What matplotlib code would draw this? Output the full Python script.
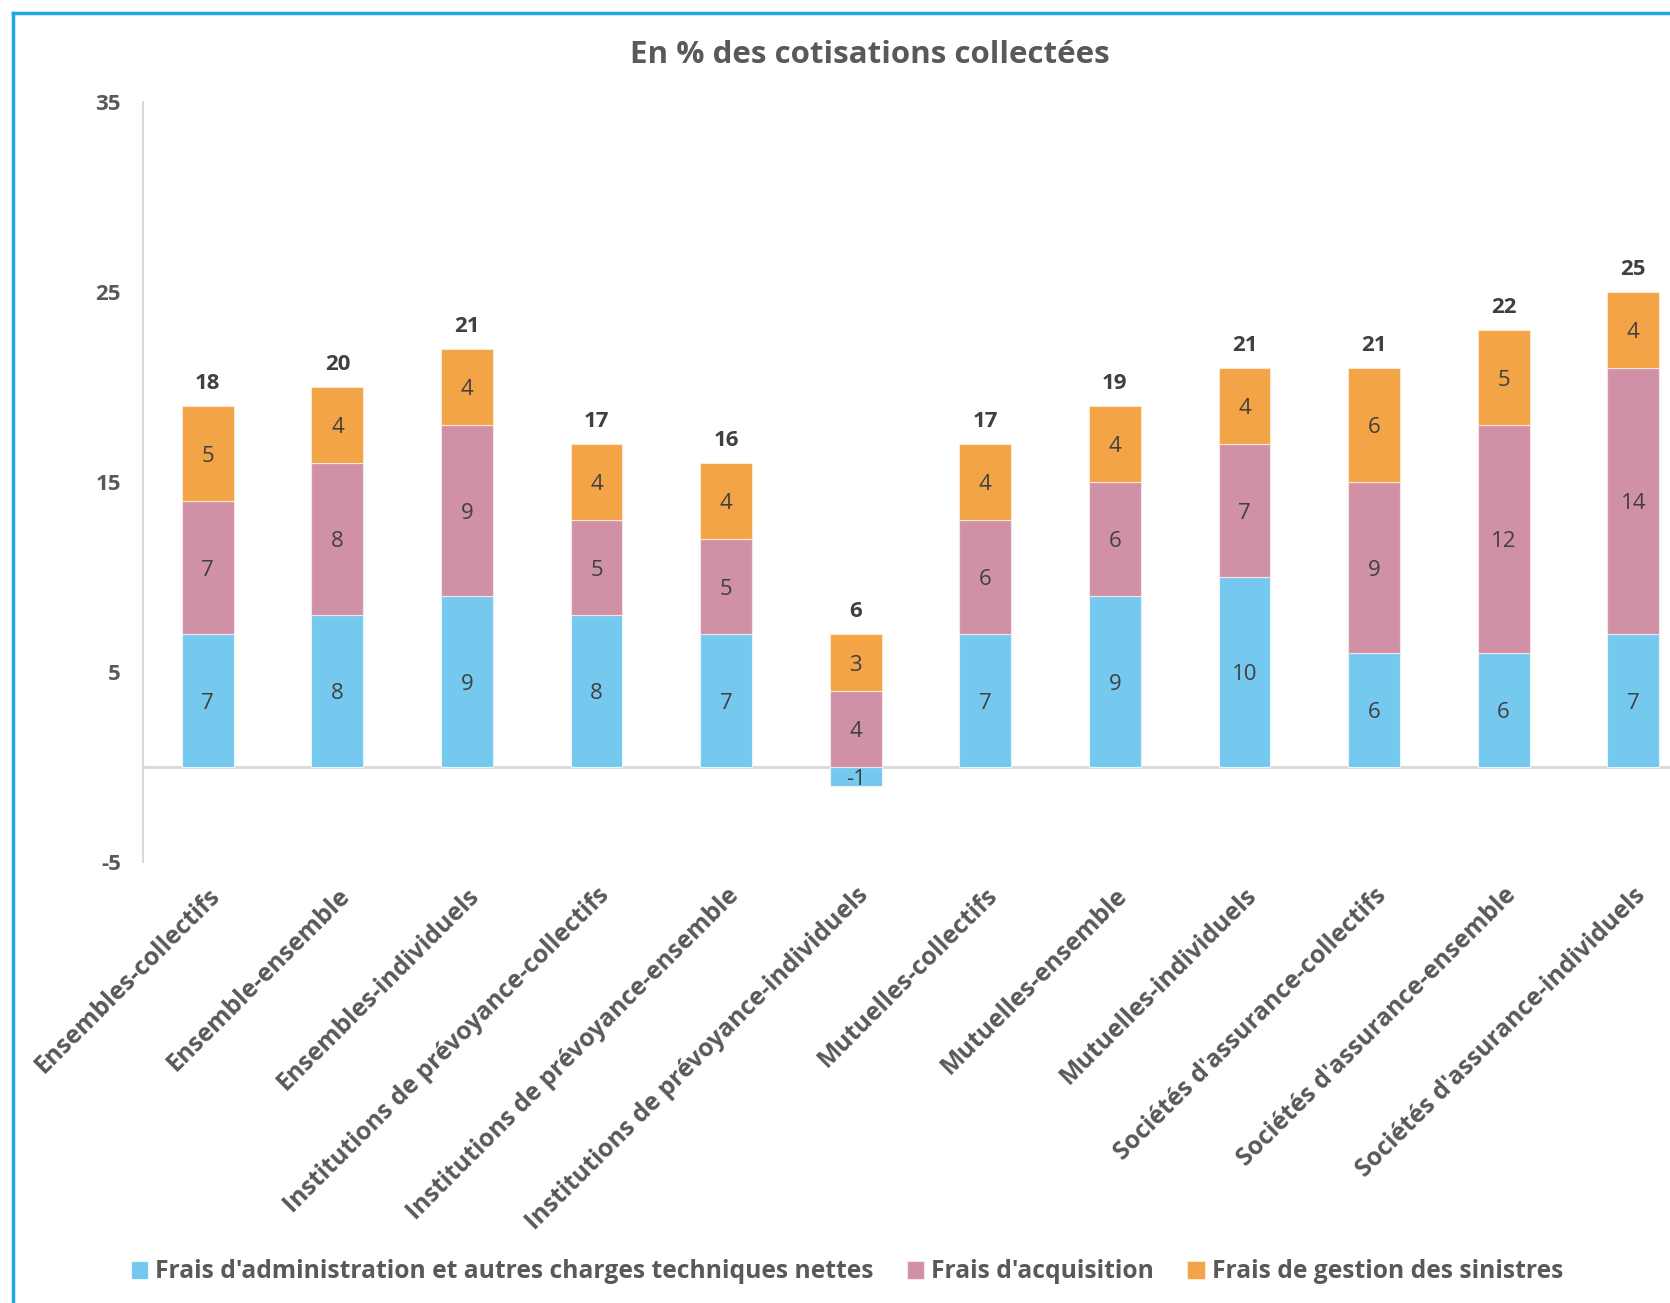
import matplotlib
matplotlib.use("Agg")
import matplotlib.pyplot as plt
from matplotlib.lines import Line2D
import numpy as np

plt.rcParams['font.family'] = ['Open Sans', 'DejaVu Sans']

categories = [
    "Ensembles-collectifs", "Ensemble-ensemble", "Ensembles-individuels",
    "Institutions de prévoyance-collectifs", "Institutions de prévoyance-ensemble",
    "Institutions de prévoyance-individuels", "Mutuelles-collectifs",
    "Mutuelles-ensemble", "Mutuelles-individuels", "Sociétés d'assurance-collectifs",
    "Sociétés d'assurance-ensemble", "Sociétés d'assurance-individuels",
]
series_names = [
    "Frais d'administration et autres charges techniques nettes",
    "Frais d'acquisition",
    "Frais de gestion des sinistres",
]
admin = [7, 8, 9, 8, 7, -1, 7, 9, 10, 6, 6, 7]
acquisition = [7, 8, 9, 5, 5, 4, 6, 6, 7, 9, 12, 14]
sinistres = [5, 4, 4, 4, 4, 3, 4, 4, 4, 6, 5, 4]
totals = [18, 20, 21, 17, 16, 6, 17, 19, 21, 21, 22, 25]
yticks = [-5, 5, 15, 25, 35]

colors = ['#75C9EE', '#D091A6', '#F2A447']
grey = '#595959'
dark = '#404040'

W, H = 1670, 1303
fig = plt.figure(figsize=(W / 100, H / 100), dpi=100)
ax = fig.add_axes([143 / W, 1 - 862 / H, 1555 / W, 760 / H])

x = np.arange(len(categories))
bw = 0.40
a = np.array(admin, dtype=float)
b = np.array(acquisition, dtype=float)
c = np.array(sinistres, dtype=float)

bottom_b = np.where(a > 0, a, 0)
bottom_c = bottom_b + b
ax.bar(x, a, bw, color=colors[0], edgecolor='#E8F6FC', linewidth=0.8, label=series_names[0], zorder=3)
ax.bar(x, b, bw, bottom=bottom_b, color=colors[1], edgecolor='#F5E6EB', linewidth=0.8, label=series_names[1], zorder=3)
ax.bar(x, c, bw, bottom=bottom_c, color=colors[2], edgecolor='#FCE9D0', linewidth=0.8, label=series_names[2], zorder=3)

seg_kw = dict(textcoords='offset points', xytext=(0, -2), ha='center', va='center',
              fontsize=16, color=dark, zorder=4)
for i in range(len(x)):
    ax.annotate(f"{admin[i]}", (x[i], a[i] / 2), **seg_kw)
    ax.annotate(f"{acquisition[i]}", (x[i], bottom_b[i] + b[i] / 2), **seg_kw)
    ax.annotate(f"{sinistres[i]}", (x[i], bottom_c[i] + c[i] / 2), **seg_kw)
    ax.annotate(f"{totals[i]}", (x[i], bottom_c[i] + c[i]), xytext=(0, 16), textcoords='offset points',
                ha='center', va='center', fontsize=16, fontweight='bold', color=dark, zorder=4)

ax.set_xlim(-0.5, 11.5)
ax.set_ylim(-5, 35)
ax.set_yticks(yticks)
ax.set_yticklabels([str(t) for t in yticks], fontsize=16, fontweight='bold', color=grey)
ax.tick_params(axis='y', length=0, pad=16)
ax.tick_params(axis='x', length=0, pad=15)
ax.set_xticks(x)
ax.set_xticklabels(categories, rotation=45, ha='right', rotation_mode='anchor',
                   fontsize=17.8, fontweight='bold', color=grey)
for s in ['top', 'right', 'bottom']:
    ax.spines[s].set_visible(False)
ax.spines['left'].set_color('#D9D9D9')
ax.spines['left'].set_linewidth(1.5)
ax.axhline(0, color='#D9D9D9', linewidth=2, zorder=2)

fig.text(870 / W, 1 - 55 / H, "En % des cotisations collectées", ha='center', va='center',
         fontsize=22.5, fontweight='bold', color=grey)

fig.legend(loc='center', bbox_to_anchor=(847 / W, 1 - 1272 / H), ncol=3, frameon=False,
           handlelength=0.7, handleheight=0.7, handletextpad=0.3, columnspacing=1.35,
           prop={'weight': 'bold', 'size': 17.7}, labelcolor=grey)

border = '#1BA8E3'
fig.add_artist(Line2D([13 / W, 13 / W], [0, 1 - 13 / H], color=border, linewidth=2.5, transform=fig.transFigure))
fig.add_artist(Line2D([13 / W, 1], [1 - 13 / H, 1 - 13 / H], color=border, linewidth=2.5, transform=fig.transFigure))

fig.savefig('out.png', dpi=100, facecolor='white')
